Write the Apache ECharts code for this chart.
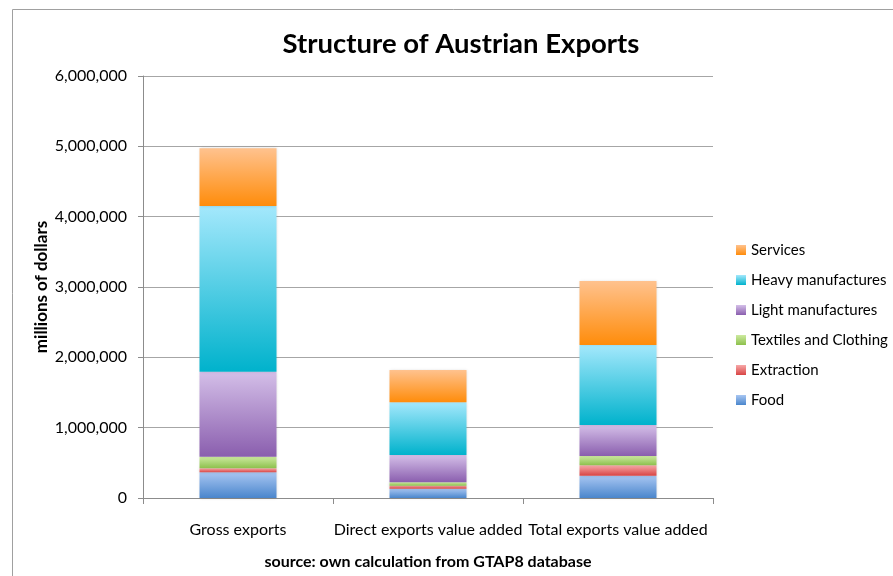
<!DOCTYPE html>
<html>
<head>
<meta charset="utf-8">
<script src="https://cdn.jsdelivr.net/npm/echarts@6/dist/echarts.min.js"></script>
<style>
  html, body { margin: 0; padding: 0; background: #fff; }
  #main { width: 893px; height: 576px; }
</style>
</head>
<body>
<div id="main"></div>
<script>
// chart values (millions of dollars)
var categories = ['Gross exports', 'Direct exports value added', 'Total exports value added'];
var food       = [365000, 132000, 317000];
var extraction = [57000, 43000, 148000];
var textiles   = [165000, 48000, 132000];
var light      = [1209000, 388000, 441000];
var heavy      = [2356000, 750000, 1137000];
var services   = [820000, 459000, 911000];
var legendOrder = ['Services', 'Heavy manufactures', 'Light manufactures', 'Textiles and Clothing', 'Extraction', 'Food'];

var FONT = 'Lato';

function grad(top, bottom) {
  return new echarts.graphic.LinearGradient(0, 0, 0, 1, [
    { offset: 0, color: top },
    { offset: 1, color: bottom }
  ]);
}

function barSeries(name, data, top, bottom) {
  return {
    name: name,
    type: 'bar',
    stack: 'total',
    barWidth: 77,
    data: data,
    itemStyle: {
      color: grad(top, bottom),
      shadowBlur: 3,
      shadowColor: 'rgba(0,0,0,0.15)'
    },
    emphasis: { disabled: true }
  };
}

var chart = echarts.init(document.getElementById('main'));
chart.setOption({
  animation: false,
  backgroundColor: '#fff',
  title: {
    text: 'Structure of Austrian Exports',
    left: 456,
    textAlign: 'center',
    top: 25,
    textStyle: { fontFamily: FONT, fontSize: 27.5, fontWeight: 'bold', color: '#000' }
  },
  legend: {
    orient: 'vertical',
    left: 731,
    top: 237,
    itemWidth: 10,
    itemHeight: 10,
    itemGap: 14,
    icon: 'rect',
    data: legendOrder,
    textStyle: { fontFamily: FONT, fontSize: 15, color: '#000', lineHeight: 16 }
  },
  grid: { left: 143, top: 76, width: 570, height: 422 },
  xAxis: {
    type: 'category',
    data: categories,
    name: 'source: own calculation from GTAP8 database',
    nameLocation: 'middle',
    nameGap: 56,
    nameTextStyle: { fontFamily: FONT, fontSize: 16, fontWeight: 'bold', color: '#000' },
    axisLine: { lineStyle: { color: '#8c8c8c' } },
    axisTick: { show: true, length: 6, lineStyle: { color: '#8c8c8c' } },
    axisLabel: { interval: 0, fontFamily: FONT, fontSize: 16, color: '#000', margin: 24 }
  },
  yAxis: {
    type: 'value',
    min: 0,
    max: 6000000,
    interval: 1000000,
    name: 'millions of dollars',
    nameLocation: 'middle',
    nameGap: 93,
    nameMoveOverlap: false,
    nameTextStyle: { fontFamily: FONT, fontSize: 17, fontWeight: 'bold', color: '#000' },
    axisLine: { show: true, lineStyle: { color: '#8c8c8c' } },
    axisTick: { show: true, length: 5, lineStyle: { color: '#8c8c8c' } },
    axisLabel: {
      fontFamily: FONT, fontSize: 16, color: '#000', margin: 16,
      formatter: function (v) { return v.toLocaleString('en-US'); }
    },
    splitLine: { lineStyle: { color: '#a6a6a6', width: 1 } }
  },
  graphic: [{
    type: 'rect',
    shape: { x: 12.5, y: 9.5, width: 900, height: 600 },
    style: { fill: 'none', stroke: '#a0a0a0', lineWidth: 1 },
    silent: true
  }],
  series: [
    barSeries('Food', food, '#a8c6f2', '#4a86cc'),
    barSeries('Extraction', extraction, '#f7a8a8', '#d84444'),
    barSeries('Textiles and Clothing', textiles, '#cdeaa0', '#8cc04c'),
    barSeries('Light manufactures', light, '#d4bfe8', '#8a5eae'),
    barSeries('Heavy manufactures', heavy, '#a4e8fc', '#00b2cc'),
    barSeries('Services', services, '#ffc28e', '#ff8c0a')
  ]
});
</script>
</body>
</html>
